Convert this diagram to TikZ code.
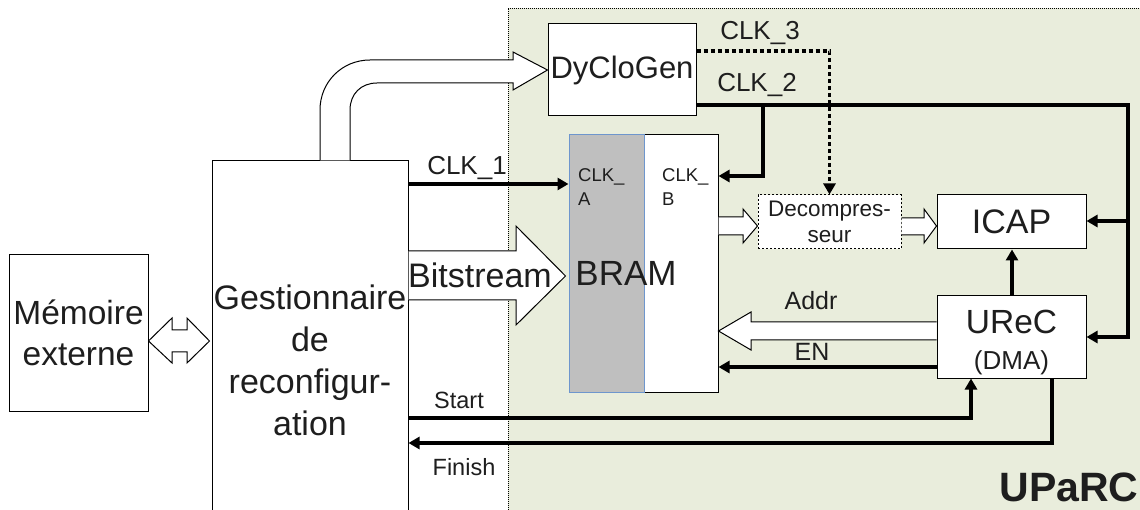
\documentclass[tikz,border=0pt]{standalone}
\usepackage{fontspec}
\setmainfont{Liberation Sans}
\usetikzlibrary{arrows.meta,calc}
\definecolor{upbg}{RGB}{233,237,220}
\definecolor{txt}{RGB}{30,30,30}
\definecolor{bramgray}{RGB}{191,191,191}
\definecolor{bramblue}{RGB}{110,150,205}
\newcommand{\myfs}[2]{\fontsize{#1}{#2}\selectfont}
\begin{document}
\begin{tikzpicture}[x=1pt,y=-1pt,line join=miter,
  box/.style={draw, fill=white, line width=1pt, inner sep=0pt, text=txt, align=center},
  sig/.style={line width=3.5pt, -{Triangle[length=11pt,width=12pt]}},
  wide/.style={draw, fill=white, line width=1pt},
  lbl/.style={text=txt, inner sep=0pt, align=center}]
\useasboundingbox (0,0) rectangle (1140,510);
% UPaRC region
\fill[upbg] (508,8) rectangle (1142,512);
\draw[line width=0.8pt, dash pattern=on 1pt off 1pt] (508,512) -- (508,8) -- (1142,8);
% main boxes
\node[box, minimum width=139pt, minimum height=156pt, font=\myfs{33.5}{41}] (mem) at (78.5,333) {Mémoire\\externe};
\node[box, minimum width=196pt, minimum height=353pt] (gest) at (310,337.5) {};
\node[lbl, font=\myfs{34}{42}] (gesttxt) at (310,360) {Gestionnaire\\de\\reconfigur-\\ation};
\node[box, minimum width=148pt, minimum height=92pt, font=\myfs{31}{34}] (dyc) at (622,70) {DyCloGen};
% curved wide arrow to DyCloGen
\draw[wide] (gest.north -| 320,0) -- (320,110) .. controls (320,82) and (342,60) .. (370,60) -- (513,60) -- (513,52) -- (dyc.west) -- (513,90) -- (513,83) -- (377,83) .. controls (361,83) and (350,94) .. (350,110) -- (gest.north -| 350,0);
% BRAM
\node[box, minimum width=74pt, minimum height=257pt] (bramB) at (681,263.5) {};
\node[draw=bramblue, fill=bramgray, line width=1pt, inner sep=0pt, minimum width=75pt, minimum height=257pt] (bramA) at (606.5,263.5) {};
\node[lbl, font=\myfs{35}{38}] (bramtxt) at (626,273) {BRAM};
\node[lbl, anchor=west, align=left, font=\myfs{18.5}{24}] (clka) at (578,187) {CLK\_\\A};
\node[lbl, anchor=west, align=left, font=\myfs{18.5}{24}] (clkb) at (662,187) {CLK\_\\B};
% other blocks
\node[box, dash pattern=on 2pt off 2pt, minimum width=143pt, minimum height=54pt, font=\myfs{22.5}{26}] (dec) at (829.5,222) {Decompres-\\seur};
\node[box, minimum width=149pt, minimum height=54pt, font=\myfs{34}{36}] (icap) at (1011.5,222) {ICAP};
\node[box, minimum width=149pt, minimum height=82pt] (urec) at (1011.5,337) {};
\node[lbl, anchor=base, font=\myfs{33.5}{36}] (urect) at (1011.5,334) {UReC};
\node[lbl, anchor=base, font=\myfs{26}{28}] (dmat) at (1011.5,370) {(DMA)};
% double arrow memoire <-> gestionnaire
\draw[wide] (mem.east |- 0,341) -- (172,318) -- (172,330) -- (187,330) -- (187,318) -- ($(gest.west |- 0,341)+(-2,0)$) -- (187,363) -- (187,352) -- (172,352) -- (172,363) -- cycle;
% Bitstream wide arrow
\draw[wide] (gest.east |- 0,251) -- (516,251) -- (516,226) -- ($(bramA.west |- 0,276)+(-3,0)$) -- (516,325) -- (516,300) -- (gest.east |- 0,300);
\node[lbl, font=\myfs{34}{36}] (bits) at (480,275) {Bitstream};
% BRAM -> Decompresseur
\draw[wide] (bramB.east |- 0,217) -- (743,217) -- (743,209) -- (dec.west |- 0,226) -- (743,243) -- (743,235) -- (bramB.east |- 0,235);
% Decompresseur -> ICAP
\draw[wide] (dec.east |- 0,218) -- (924,218) -- (924,209) -- (icap.west |- 0,226) -- (924,243) -- (924,235) -- (dec.east |- 0,235);
% Addr wide arrow
\draw[wide] (urec.west |- 0,322) -- (751,322) -- (751,312) -- (bramB.east |- 0,331) -- (751,350) -- (751,340) -- (urec.west |- 0,340);
% signals
\draw[sig] (gest.east |- 0,184) -- (bramA.west |- 0,184);
\draw[sig] (urec.west |- 0,367) -- (bramB.east |- 0,367);
\draw[sig] (dyc.east |- 0,105) -- (1128,105) -- (1128,337) -- (urec.east |- 0,337);
\draw[sig] (1128,221) -- (icap.east |- 0,221);
\draw[sig] (763,105) -- (763,176) -- (bramB.east |- 0,176);
\draw[sig, dash pattern=on 4pt off 3pt] (dyc.east |- 0,51) -- (829.5,51) -- (dec.north);
\draw[sig] (urec.north -| 1012,0) -- (icap.south -| 1012,0);
\draw[sig] (gest.east |- 0,418) -- (971,418) -- (urec.south -| 971,0);
\draw[sig] (urec.south -| 1052,0) -- (1052,443) -- (gest.east |- 0,443);
% labels
\node[lbl, font=\myfs{26}{28}] (l1) at (467,168) {CLK\_1};
\node[lbl, font=\myfs{26}{28}] (l3) at (760,33) {CLK\_3};
\node[lbl, font=\myfs{26}{28}] (l2) at (757,85) {CLK\_2};
\node[lbl, font=\myfs{25}{28}] (laddr) at (811,301) {Addr};
\node[lbl, font=\myfs{25}{28}] (len) at (812,352) {EN};
\node[lbl, font=\myfs{23.5}{26}] (lstart) at (459,400) {Start};
\node[lbl, font=\myfs{23.5}{26}] (lfin) at (464,467) {Finish};
\node[lbl, font=\bfseries\myfs{41}{44}] (lup) at (1069,487) {UPaRC};
\end{tikzpicture}
\end{document}
